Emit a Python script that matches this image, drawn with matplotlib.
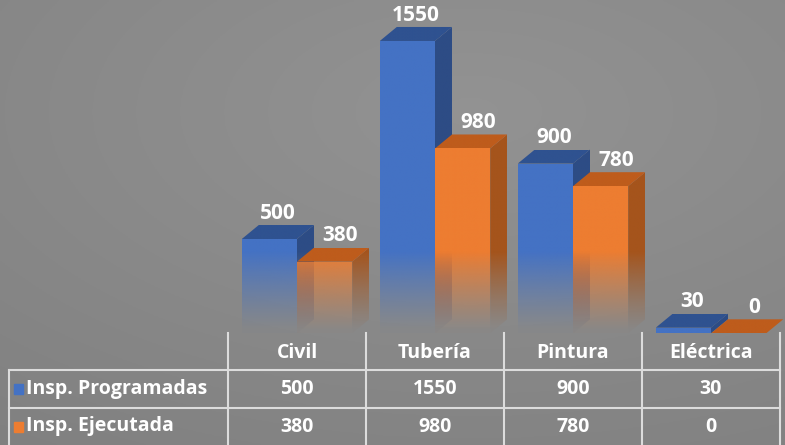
import numpy as np
import matplotlib.pyplot as plt
from matplotlib.patches import Polygon
from matplotlib.colors import to_rgb

plt.rcParams['font.family'] = ['Open Sans', 'DejaVu Sans']

categorias = ['Civil', 'Tubería', 'Pintura', 'Eléctrica']
series = ['Insp. Programadas', 'Insp. Ejecutada']
programadas = [500, 1550, 900, 30]
ejecutadas = [380, 980, 780, 0]

# colors: front, top, side
colores = [('#4472C4', '#2F5290', '#2D4C85'),
           ('#ED7D31', '#BE5C1C', '#A5541C')]

W, H = 785, 445
BASE = 333.3          # pixel row of the baseline
PX_COL = 138.0        # pixel width of one category
LEFT = 228.0          # table/plot left edge
PX_PER_UNIT = 0.1886  # pixels per inspection

fig = plt.figure(figsize=(W / 100, H / 100), dpi=100)

# background gradient
bg = fig.add_axes([0, 0, 1, 1], zorder=0)
yy, xx = np.mgrid[0:1:200j, 0:1:300j]
r = np.sqrt(((xx - 0.6) / 1.0) ** 2 + ((yy - 0.75) / 0.9) ** 2)
g = np.clip(0.575 - 0.07 * r, 0, 1)
bg.imshow(np.dstack([g, g, g]), extent=[0, 1, 0, 1], origin='lower', aspect='auto')
bg.axis('off')

# bar axes (x in category units, y in values)
ax = fig.add_axes([0, 0, 1, 1], zorder=1)
ax.patch.set_alpha(0)
x_lo = -0.5 - LEFT / PX_COL
x_hi = x_lo + W / PX_COL
y_lo = -(H - BASE) / PX_PER_UNIT
y_hi = BASE / PX_PER_UNIT

w = 0.4
dx = 17 / PX_COL
dy = 14 / PX_PER_UNIT
fade_h = 430.0


def face(verts, color, fade):
    verts = np.array(verts)
    poly = Polygon(verts, closed=True, facecolor='none', edgecolor='none')
    ax.add_patch(poly)
    ys = np.linspace(verts[:, 1].min(), verts[:, 1].max(), 200)
    if fade:
        a = np.clip(ys / fade_h, 0.04, 1.0) ** 1.2
    else:
        a = np.ones_like(ys)
    img = np.zeros((len(ys), 1, 4))
    img[:, 0, :3] = to_rgb(color)
    img[:, 0, 3] = a
    im = ax.imshow(img, extent=[verts[:, 0].min(), verts[:, 0].max(), ys[0], ys[-1]],
                   origin='lower', aspect='auto', interpolation='bilinear')
    im.set_clip_path(poly)


for k, valores in enumerate([programadas, ejecutadas]):
    front_c, top_c, side_c = colores[k]
    for i, v in enumerate(valores):
        x0 = i - w + k * w
        fade = v > 100
        if v > 0:
            face([(x0, 0), (x0 + w, 0), (x0 + w, v), (x0, v)], front_c, fade)
            face([(x0 + w, 0), (x0 + w + dx, dy), (x0 + w + dx, v + dy), (x0 + w, v)], side_c, fade)
        face([(x0, v), (x0 + w, v), (x0 + w + dx, v + dy), (x0 + dx, v + dy)], top_c, False)
        ax.annotate(str(v), xy=(x0 + w / 2 + dx / 2 + 0.05 * k, v + dy), xytext=(0, 1),
                    textcoords='offset points', ha='center', va='bottom',
                    color='white', fontsize=15, fontweight='bold')

ax.set_xlim(x_lo, x_hi)
ax.set_ylim(y_lo, y_hi)
ax.axis('off')

# data table
tax = fig.add_axes([0, 0, 1, 1], zorder=2)
tax.patch.set_alpha(0)
tax.set_xlim(0, W)
tax.set_ylim(H, 0)
tax.axis('off')

line_c = '#DCDCDC'
row_tops = [370, 408]
for yl in row_tops:
    tax.plot([9, 780], [yl, yl], color=line_c, lw=1.5)
for j in range(len(categorias) + 1):
    xl = LEFT + PX_COL * j
    tax.plot([xl, xl], [333, H], color=line_c, lw=1.5)
tax.plot([9, 9], [370, H], color=line_c, lw=1.5)

for j, cat in enumerate(categorias):
    tax.text(LEFT + PX_COL * (j + 0.5), 353, cat, ha='center', va='center',
             color='white', fontsize=14, fontweight='bold')

for r_i, (nombre, valores) in enumerate(zip(series, [programadas, ejecutadas])):
    yc = (row_tops[r_i] + (row_tops[r_i + 1] if r_i + 1 < len(row_tops) else H)) / 2
    tax.add_patch(plt.Rectangle((14, yc - 5), 9, 10, color=colores[r_i][0]))
    tax.text(26, yc, nombre, ha='left', va='center', color='white',
             fontsize=14, fontweight='bold')
    for j, v in enumerate(valores):
        tax.text(LEFT + PX_COL * (j + 0.5), yc, str(v), ha='center', va='center',
                 color='white', fontsize=14, fontweight='bold')

fig.savefig('out.png', dpi=100)
